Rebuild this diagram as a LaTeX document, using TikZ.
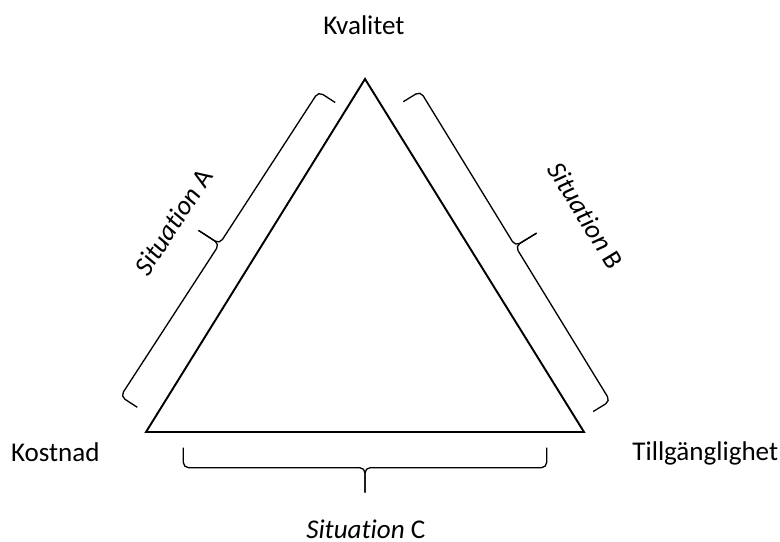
\documentclass[tikz,border=0pt]{standalone}
\usepackage{fontspec}
\setmainfont{Carlito}[Ligatures=NoCommon]
\newcommand{\sit}{\itshape Situation}

\tikzset{
  bracketline/.style={line width=0.75pt,rounded corners=3pt},
  bracket/.pic={
    \draw[bracketline] (0,0) -- (0,20) -- (181.7,20) -- (181.7,45);
    \draw[bracketline] (363.4,0) -- (363.4,20) -- (181.7,20) -- (181.7,45);
  },
  txt/.style={font=\fontsize{15.4}{18}\selectfont,inner sep=0pt}
}

\begin{document}
\begin{tikzpicture}[x=0.2mm,y=0.2mm]
     \useasboundingbox (0,0) rectangle (780,542);
     \coordinate (kv) at (365,463);
     \coordinate (ko) at (146,110);
     \coordinate (ti) at (584,110);
     \draw[line width=1.1pt] (ko) -- (kv) -- (ti) -- cycle;
     \pic[rotate=57]    at (137.3,134.7) {bracket};
     \pic[rotate=-58.5] at (403.3,440.3) {bracket};
     \pic[rotate=180]   at (546.7,94.3)  {bracket};
     \node[txt,anchor=base] (kvalitet) at (364,507.7) {Kvalitet};
     \node[txt,anchor=base] (kostnad)  at (55.3,80.5) {Kostnad};
     \node[txt,anchor=base] (tillg)    at (705.3,81.5) {Tillgänglighet};
     \node[txt,rotate=57]    (sitA) at (173.3,320.3) {{\sit} A};
     \node[txt,rotate=-58.5] (sitB) at (586,326.5)   {{\sit} B};
     \node[txt,anchor=base]  (sitC) at (365.8,3.5)   {{\sit} C};
    \end{tikzpicture}
\end{document}
